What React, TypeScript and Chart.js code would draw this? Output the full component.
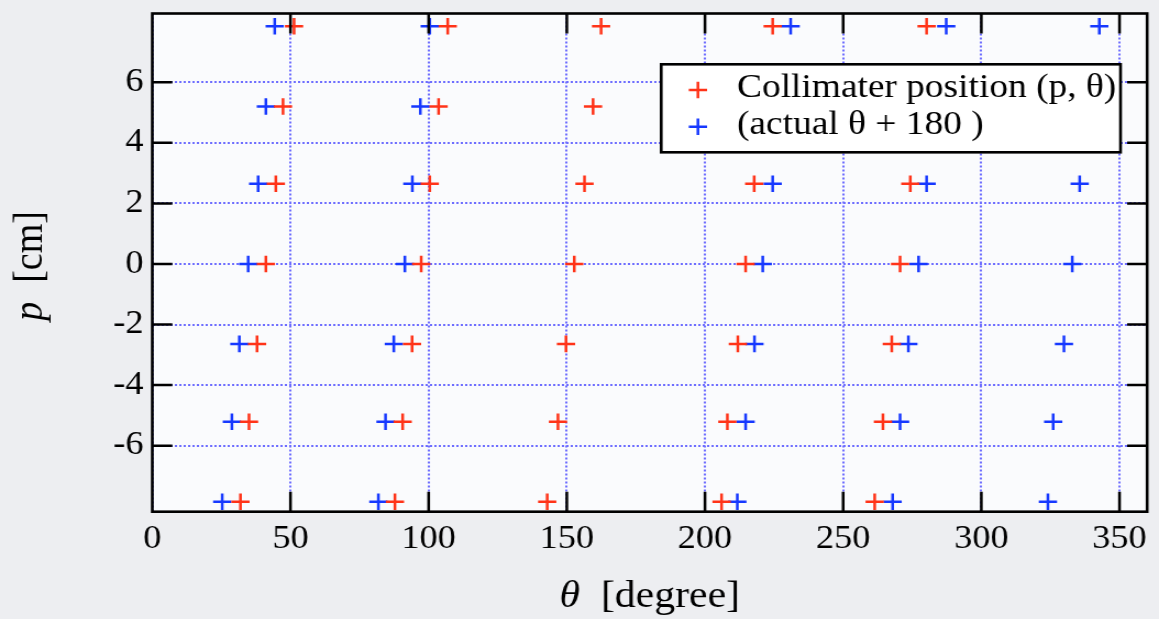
import React, { useEffect, useRef } from "react";
import { Chart, registerables } from "chart.js";

Chart.register(...registerables);

// p rows [cm]
const P_ROWS = [7.85, 5.2, 2.65, 0, -2.64, -5.21, -7.85];

// Collimater position theta [degree], one list per p row
const COLLIMATOR_THETA = [
  [51.3, 106.9, 162.4, 224.5, 280.2],
  [47.3, 103.6, 159.5],
  [44.7, 100.4, 156.4, 217.8, 274.3],
  [41.1, 97.3, 152.7, 214.7, 270.6],
  [37.9, 94.0, 149.7, 211.9, 267.6],
  [35.0, 90.6, 146.8, 208.1, 264.4],
  [31.9, 87.8, 142.9, 206.0, 261.4],
];

// actual theta + 180 [degree], one list per p row
const ACTUAL_THETA = [
  [44.3, 100.4, 231.0, 287.3, 342.7],
  [41.1, 97.0],
  [38.3, 94.1, 224.5, 280.2, 335.6],
  [34.7, 91.4, 220.9, 277.3, 332.9],
  [31.5, 87.4, 217.9, 273.6, 329.9],
  [28.8, 84.4, 214.7, 270.6, 326.0],
  [25.3, 81.8, 211.7, 267.9, 324.1],
];

const X_TICKS = [0, 50, 100, 150, 200, 250, 300, 350];
const Y_TICKS = [-6, -4, -2, 0, 2, 4, 6];
const SERIES_LABELS = ["Collimater position (p, \u03b8)", "(actual \u03b8 + 180 )"];
const SERIES_COLORS = ["#ff3318", "#1638ff"];
const X_TITLE = ["\u03b8", "[degree]"];
const Y_TITLE = ["p", "[cm]"];

const CW = 1054;
const CH = 619;
const SERIF = '"Liberation Serif", "Times New Roman", serif';
const GRID_COLOR = "#6e6eff";

function toPoints(thetas: number[][]) {
  const pts: { x: number; y: number }[] = [];
  thetas.forEach((row, i) => row.forEach((t) => pts.push({ x: t, y: P_ROWS[i] })));
  return pts;
}

function drawCross(ctx: CanvasRenderingContext2D, x: number, y: number, r: number, color: string) {
  ctx.save();
  ctx.strokeStyle = color;
  ctx.lineWidth = 2.5;
  ctx.beginPath();
  ctx.moveTo(x - r, y);
  ctx.lineTo(x + r, y);
  ctx.moveTo(x, y - r);
  ctx.lineTo(x, y + r);
  ctx.stroke();
  ctx.restore();
}

const framePlugin = {
  id: "gnuplotFrame",
  beforeDraw(chart: any) {
    const { ctx, chartArea: a, width, height } = chart;
    ctx.save();
    ctx.fillStyle = "#edeef1";
    ctx.fillRect(0, 0, width, height);
    ctx.fillStyle = "#fafbfd";
    ctx.fillRect(a.left, a.top, a.right - a.left, a.bottom - a.top);
    ctx.restore();
  },
  afterDatasetsDraw(chart: any) {
    const { ctx, chartArea: a, scales } = chart;
    const xs = scales.x;
    const ys = scales.y;
    ctx.save();
    ctx.strokeStyle = "#000";
    ctx.lineWidth = 2.5;
    ctx.beginPath();
    const vLen = 20;
    const hLen = 18.2;
    for (const v of X_TICKS) {
      const px = xs.getPixelForValue(v);
      if (px <= a.left + 1) continue;
      ctx.moveTo(px, a.bottom);
      ctx.lineTo(px, a.bottom - vLen);
      ctx.moveTo(px, a.top);
      ctx.lineTo(px, a.top + vLen);
    }
    for (const v of Y_TICKS) {
      const py = ys.getPixelForValue(v);
      ctx.moveTo(a.left, py);
      ctx.lineTo(a.left + hLen, py);
      ctx.moveTo(a.right, py);
      ctx.lineTo(a.right - hLen, py);
    }
    ctx.stroke();
    ctx.lineWidth = 2.6;
    ctx.strokeRect(a.left, a.top, a.right - a.left, a.bottom - a.top);
    ctx.restore();
  },
  afterDraw(chart: any) {
    const { ctx, chartArea: a } = chart;
    ctx.save();
    // legend box
    const lx = a.right - 441.9;
    const rx = a.right - 24.2;
    const ty = a.top + 50.8;
    const by = a.top + 138.8;
    ctx.fillStyle = "#ffffff";
    ctx.fillRect(lx, ty, rx - lx, by - ty);
    ctx.strokeStyle = "#000";
    ctx.lineWidth = 2.6;
    ctx.strokeRect(lx, ty, rx - lx, by - ty);
    const rowsY = [a.top + 76.5, a.top + 113.2];
    ctx.font = `34px ${SERIF}`;
    ctx.fillStyle = "#000";
    ctx.textBaseline = "middle";
    ctx.textAlign = "left";
    SERIES_LABELS.forEach((lab, i) => {
      drawCross(ctx, a.right - 408.5, rowsY[i], 8.3, SERIES_COLORS[i]);
      ctx.fillText(lab, a.right - 373, rowsY[i] - 2);
    });

    // x title
    const fItal = `italic 38px ${SERIF}`;
    const fReg = `38px ${SERIF}`;
    ctx.textBaseline = "alphabetic";
    ctx.font = fItal;
    const w1 = ctx.measureText(X_TITLE[0]).width;
    ctx.font = fReg;
    const gap = ctx.measureText("  ").width;
    const w2 = ctx.measureText(X_TITLE[1]).width;
    const cx = (a.left + a.right) / 2;
    const sx = cx - (w1 + gap + w2) / 2;
    ctx.font = fItal;
    ctx.fillText(X_TITLE[0], sx, 607);
    ctx.font = fReg;
    ctx.fillText(X_TITLE[1], sx + w1 + gap, 607);

    // y title (rotated)
    ctx.save();
    ctx.translate(37.5, 266);
    ctx.rotate(-Math.PI / 2);
    ctx.font = fItal;
    const v1 = ctx.measureText(Y_TITLE[0]).width;
    ctx.font = fReg;
    const v2 = ctx.measureText(Y_TITLE[1]).width;
    const sy = -(v1 + gap + v2) / 2;
    ctx.font = fItal;
    ctx.fillText(Y_TITLE[0], sy, 0);
    ctx.font = fReg;
    ctx.fillText(Y_TITLE[1], sy + v1 + gap, 0);
    ctx.restore();

    ctx.restore();
  },
};

export default function App() {
  const ref = useRef<HTMLCanvasElement>(null);
  useEffect(() => {
    document.body.style.margin = "0";
    document.body.style.overflow = "hidden";
    const canvas = ref.current;
    if (!canvas) return;
    const tickFont = { family: SERIF, size: 33 };
    const chart = new Chart(canvas, {
      type: "scatter",
      data: {
        datasets: [
          {
            label: SERIES_LABELS[0],
            data: toPoints(COLLIMATOR_THETA),
            pointStyle: "cross",
            pointRadius: 8.3,
            pointBorderWidth: 2.5,
            borderColor: SERIES_COLORS[0],
            backgroundColor: SERIES_COLORS[0],
          },
          {
            label: SERIES_LABELS[1],
            data: toPoints(ACTUAL_THETA),
            pointStyle: "cross",
            pointRadius: 8.3,
            pointBorderWidth: 2.5,
            borderColor: SERIES_COLORS[1],
            backgroundColor: SERIES_COLORS[1],
          },
        ],
      },
      options: {
        responsive: false,
        animation: false,
        events: [],
        layout: { padding: { left: 0, right: 5.5, top: 13.5, bottom: 0 } },
        plugins: { legend: { display: false }, tooltip: { enabled: false } },
        scales: {
          x: {
            type: "linear",
            min: 0,
            max: 360,
            afterBuildTicks: (s: any) => {
              s.ticks = X_TICKS.map((v) => ({ value: v }));
            },
            afterFit: (s: any) => {
              s.height = CH - 511.7;
              s.paddingLeft = 0;
              s.paddingRight = 0;
            },
            ticks: { font: tickFont, color: "#000", padding: 8, maxRotation: 0, autoSkip: false },
            grid: { color: GRID_COLOR, lineWidth: 2, drawTicks: false },
            border: { display: false, dash: [2, 2] },
          },
          y: {
            type: "linear",
            min: -8.18,
            max: 8.27,
            afterBuildTicks: (s: any) => {
              s.ticks = Y_TICKS.map((v) => ({ value: v }));
            },
            afterFit: (s: any) => {
              s.width = 138.5;
              s.paddingTop = 0;
              s.paddingBottom = 0;
            },
            ticks: { font: tickFont, color: "#000", padding: 8, autoSkip: false },
            grid: { color: GRID_COLOR, lineWidth: 2, drawTicks: false },
            border: { display: false, dash: [2, 2] },
          },
        },
      },
      plugins: [framePlugin],
    } as any);
    return () => chart.destroy();
  }, []);

  return (
    <div
      style={{
        position: "absolute",
        left: 0,
        top: 0,
        width: CW,
        height: CH,
        transform: `scaleX(${1159 / CW})`,
        transformOrigin: "0 0",
      }}
    >
      <canvas ref={ref} width={CW} height={CH} style={{ display: "block" }} />
    </div>
  );
}
